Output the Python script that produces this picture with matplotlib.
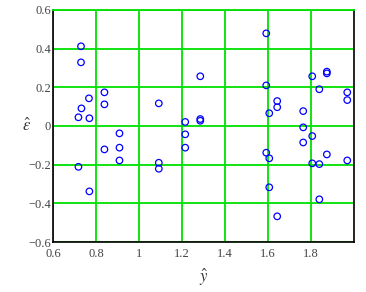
import matplotlib
matplotlib.use("Agg")
import matplotlib.pyplot as plt
import numpy as np

# fitted values (y hat) and residuals (epsilon hat)
y_hat = [0.730, 0.730, 0.767, 0.839, 0.839, 0.732, 0.718, 0.769, 1.092, 0.909,
         0.839, 0.909, 0.909, 0.718, 0.769, 1.092, 1.092,
         1.215, 1.215, 1.215,
         1.285, 1.285, 1.285, 1.592, 1.592, 1.643, 1.643, 1.606, 1.764, 1.764,
         1.764, 1.806, 1.839, 1.874, 1.874, 1.969, 1.969, 1.806,
         1.592, 1.606, 1.806, 1.839, 1.874, 1.969, 1.606, 1.839, 1.643]
resid = [0.412, 0.329, 0.143, 0.174, 0.112, 0.091, 0.045, 0.040, 0.117, -0.038,
         -0.121, -0.112, -0.178, -0.211, -0.338, -0.190, -0.221,
         0.021, -0.043, -0.112,
         0.257, 0.036, 0.027, 0.479, 0.210, 0.129, 0.097, 0.066, 0.077, -0.007,
         -0.085, 0.257, 0.190, 0.281, 0.272, 0.174, 0.134, -0.052,
         -0.138, -0.167, -0.193, -0.197, -0.147, -0.178, -0.317, -0.379, -0.467]

x_ticks = [0.6, 0.8, 1.0, 1.2, 1.4, 1.6, 1.8]
x_labels = ["0.6", "0.8", "1", "1.2", "1.4", "1.6", "1.8"]
y_ticks = [-0.6, -0.4, -0.2, 0, 0.2, 0.4, 0.6]
y_labels = ["\u22120.6", "\u22120.4", "\u22120.2", "0", "0.2", "0.4", "0.6"]

plt.rcParams['font.family'] = ['Liberation Serif', 'DejaVu Serif']
plt.rcParams['mathtext.fontset'] = 'stix'

fig = plt.figure(figsize=(3.66, 2.92), dpi=100)
ax = fig.add_axes([0.145, 0.171, 0.822, 0.795])

grid_c = '#00e000'
ax.set_xlim(0.6, 2.0)
ax.set_ylim(-0.6, 0.6)
ax.set_xticks(x_ticks)
ax.set_xticklabels(x_labels)
ax.set_yticks(y_ticks)
ax.set_yticklabels(y_labels)
ax.tick_params(length=0, labelsize=9, colors='#444444')
ax.tick_params(axis='y', pad=1.5)
ax.tick_params(axis='x', pad=4.5)
ax.grid(True, color=grid_c, linewidth=1.3)
ax.set_axisbelow(True)

for s in ['left', 'bottom', 'right']:
    ax.spines[s].set_color('black')
    ax.spines[s].set_linewidth(1.2)
ax.spines['top'].set_color(grid_c)
ax.spines['top'].set_linewidth(1.3)

ax.scatter(y_hat, resid, s=22, facecolors='none', edgecolors='#0000ff',
           linewidths=0.9, zorder=3, clip_on=False)

ax.set_xlabel(r'$\hat{y}$', fontsize=12, labelpad=5, color='#333333')
ax.yaxis.set_label_coords(-0.088, 0.5)
ax.set_ylabel(r'$\hat{\varepsilon}$', fontsize=12, rotation=0,
              va='center', ha='center', color='#333333')

fig.savefig('out.png', dpi=100)
